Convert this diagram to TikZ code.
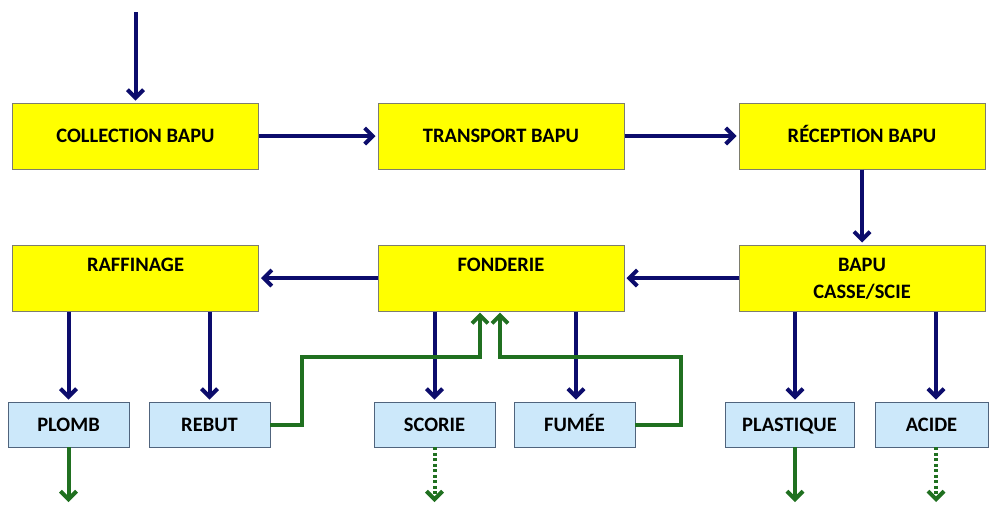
\documentclass[tikz,border=0pt]{standalone}
\usepackage{fontspec}
\setmainfont{Carlito}
\usetikzlibrary{arrows.meta}
\definecolor{navy}{RGB}{12,12,108}
\definecolor{grn}{RGB}{32,112,32}
\definecolor{ylw}{RGB}{255,255,0}
\definecolor{lblue}{RGB}{204,232,250}
\definecolor{ybord}{RGB}{125,125,110}
\definecolor{bbord}{RGB}{80,100,125}
\newcommand\toptext[1]{\parbox[c][62pt][t]{240pt}{\vspace*{6pt}\centering\strut#1}}
\begin{document}
\begin{tikzpicture}[x=1pt,y=-1pt,
  ybox/.style={draw=ybord, line width=1pt, fill=ylw, minimum width=246pt, minimum height=66pt,
    inner sep=2pt, font=\bfseries\fontsize{20.5}{27}\selectfont},
  yone/.style={ybox, inner sep=0pt, text height=13pt, text depth=0pt},
  bbox/.style={draw=bbord, line width=0.9pt, fill=lblue, minimum width=121pt, minimum height=45pt,
    inner sep=0pt, text height=13pt, text depth=0pt, font=\bfseries\fontsize{20.5}{27}\selectfont},
  tipb/.style={-{Straight Barb[length=8pt,width=16pt]}},
  narr/.style={draw=navy, line width=4pt, tipb, shorten >=2pt},
  garr/.style={draw=grn, line width=4pt, tipb, shorten >=1pt},
  gdot/.style={garr, dash pattern=on 3pt off 2.5pt}]
\useasboundingbox (0,0) rectangle (989,504);
% top row
\node[yone] (coll) at (135.5,136) {COLLECTION BAPU};
\node[yone] (trans) at (501,136) {TRANSPORT BAPU};
\node[yone] (recep) at (862,136) {RÉCEPTION BAPU};
% second row
\node[ybox] (raff) at (135.5,278) {\toptext{RAFFINAGE}};
\node[ybox] (fond) at (501,278) {\toptext{FONDERIE}};
\node[ybox] (bapu) at (862,278) {\toptext{BAPU\\CASSE/SCIE}};
% bottom row
\node[bbox] (plomb) at (68.5,424.5) {PLOMB};
\node[bbox] (rebut) at (209.5,424.5) {REBUT};
\node[bbox] (scorie) at (434.5,424.5) {SCORIE};
\node[bbox] (fumee) at (574.5,424.5) {FUMÉE};
\node[bbox, minimum width=129pt] (plast) at (789.5,424.5) {PLASTIQUE};
\node[bbox, minimum width=113pt] (acide) at (931.5,424.5) {ACIDE};
% coordinates
\coordinate (start) at (135.5,12);
\coordinate (o1) at (68.5,503);
\coordinate (o2) at (434.5,503);
\coordinate (o3) at (795,503);
\coordinate (o4) at (936,503);
\coordinate (r1) at (302,357);
\coordinate (r2) at (681,357);
% navy arrows
\draw[narr] (start) -- (coll.north);
\draw[narr] (coll.east) -- (trans.west);
\draw[narr] (trans.east) -- (recep.west);
\draw[narr] (recep.south) -- (bapu.north);
\draw[narr] (bapu.west) -- (fond.east);
\draw[narr] (fond.west) -- (raff.east);
\draw[narr] (plomb.north |- raff.south) -- (plomb.north);
\draw[narr] (rebut.north |- raff.south) -- (rebut.north);
\draw[narr] (scorie.north |- fond.south) -- (scorie.north);
\draw[narr] ([xshift=1.5pt]fumee.north |- fond.south) -- ([xshift=1.5pt]fumee.north);
\draw[narr] ([xshift=5.5pt]plast.north |- bapu.south) -- ([xshift=5.5pt]plast.north);
\draw[narr] ([xshift=4.5pt]acide.north |- bapu.south) -- ([xshift=4.5pt]acide.north);
% green outputs
\draw[garr] (plomb.south) -- (o1);
\draw[gdot] (scorie.south) -- (o2);
\draw[garr] (o3 |- plast.south) -- (o3);
\draw[gdot] (o4 |- acide.south) -- (o4);
% green recycling
\draw[garr] (rebut.east) -| (r1) -| ([xshift=-21pt]fond.south);
\draw[garr] (fumee.east) -| (r2) -| ([xshift=-1pt]fond.south);
\end{tikzpicture}
\end{document}
